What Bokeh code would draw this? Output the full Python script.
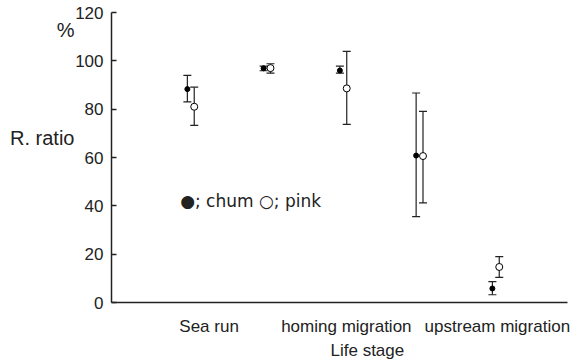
from bokeh.plotting import figure
from bokeh.models import (ColumnDataSource, Whisker, TeeHead, Label, FixedTicker, Range1d,
                          LinearAxis, Title)
from bokeh.embed import file_html
from bokeh.resources import INLINE

# ---- data ----
stage_index = [1, 2, 3, 4, 5]
chum_ratio = [88.3, 96.9, 96.0, 60.8, 5.8]
chum_lower = [83.0, 95.9, 94.9, 35.5, 3.2]
chum_upper = [94.0, 97.8, 97.8, 86.7, 8.6]
pink_ratio = [81.0, 97.0, 88.6, 60.6, 14.7]
pink_lower = [73.3, 94.9, 73.7, 41.2, 10.4]
pink_upper = [89.1, 98.8, 103.9, 79.1, 19.0]
stage_labels = ["Sea run", "homing migration", "upstream migration"]
y_ticks = [0, 20, 40, 60, 80, 100, 120]

FONT = "Liberation Sans"
FS = "17px"
COL = "#222222"
OFF = 0.045

p = figure(width=578, height=359, output_backend="svg", toolbar_location=None,
           x_range=Range1d(-0.04, 5.94), y_range=Range1d(0, 120),
           min_border_left=111, min_border_right=11, min_border_top=12,
           min_border_bottom=52)
p.outline_line_color = None
p.xgrid.grid_line_color = None
p.ygrid.grid_line_color = None

chum_x = [s - OFF for s in stage_index]
pink_x = [s + OFF for s in stage_index]
src_c = ColumnDataSource(dict(x=chum_x, y=chum_ratio, lo=chum_lower, hi=chum_upper))
src_p = ColumnDataSource(dict(x=pink_x, y=pink_ratio, lo=pink_lower, hi=pink_upper))

for src in (src_c, src_p):
    w = Whisker(source=src, base="x", lower="lo", upper="hi", line_color=COL,
                line_width=1.2,
                upper_head=TeeHead(size=8, line_color=COL, line_width=1.2),
                lower_head=TeeHead(size=8, line_color=COL, line_width=1.2))
    p.add_layout(w)

p.scatter("x", "y", source=src_c, size=5, fill_color="black", line_color="black")
p.scatter("x", "y", source=src_p, size=7, fill_color="white", line_color="black",
          line_width=1)

# main y axis
p.yaxis.ticker = FixedTicker(ticks=y_ticks)
p.yaxis.major_tick_in = 5
p.yaxis.major_tick_out = 0
p.yaxis.minor_tick_line_color = None
p.yaxis.axis_line_width = 1.5
p.yaxis.major_tick_line_width = 1.5
p.yaxis.axis_line_color = COL
p.yaxis.major_tick_line_color = COL
p.yaxis.major_label_text_font = FONT
p.yaxis.major_label_text_font_size = FS
p.yaxis.major_label_text_color = COL
p.yaxis.major_label_standoff = 8

# extra left axis carrying the "R. ratio" and "%" texts
name_ticks = {68: "R. ratio", 112.6: "%"}
ax2 = LinearAxis(ticker=FixedTicker(ticks=list(name_ticks)),
                 major_label_overrides=name_ticks)
ax2.axis_line_color = None
ax2.major_tick_line_color = None
ax2.minor_tick_line_color = None
ax2.major_label_text_font = FONT
ax2.major_label_text_font_size = "20px"
ax2.major_label_text_color = COL
ax2.major_label_standoff = -8
p.add_layout(ax2, "left")

# x axis
x_tick_pos = [1.24, 3.04, 5.02]
p.xaxis.ticker = FixedTicker(ticks=x_tick_pos)
p.xaxis.major_label_overrides = dict(zip(x_tick_pos, stage_labels))
p.xaxis.major_tick_line_color = None
p.xaxis.minor_tick_line_color = None
p.xaxis.axis_line_width = 1.5
p.xaxis.axis_line_color = COL
p.xaxis.major_label_text_font = FONT
p.xaxis.major_label_text_font_size = FS
p.xaxis.major_label_text_color = COL
p.xaxis.major_label_standoff = 8

t = Title(text="Life stage", align="left", offset=219, text_font=FONT,
          text_font_size=FS, text_font_style="normal", text_color=COL, standoff=0)
p.add_layout(t, "below")

p.add_layout(Label(x=0.86, y=42.2, text="\u25cf; chum \u25cb; pink",
                   text_font="DejaVu Sans", text_font_size="17px", text_color=COL,
                   text_baseline="middle"))

open("out.html", "w").write(file_html(p, INLINE))
